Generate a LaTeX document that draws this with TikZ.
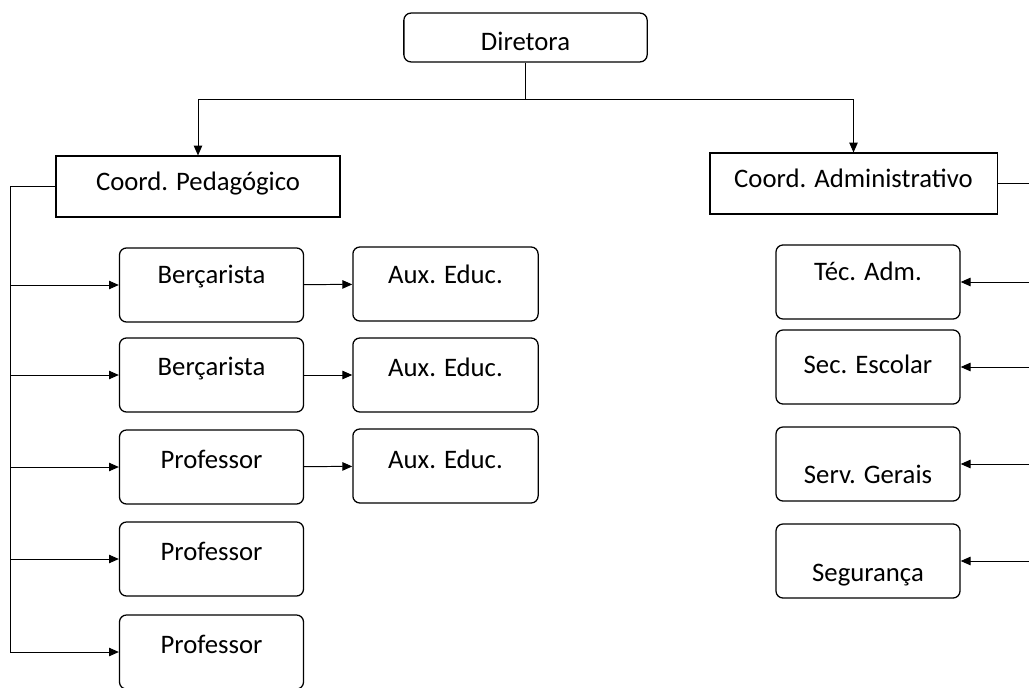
\documentclass[tikz,border=0pt]{standalone}
\usepackage{fontspec}
\setmainfont{Carlito}
\usetikzlibrary{arrows.meta}
\tikzset{
	cargo/.style={draw,line width=0.9pt,rounded corners=5pt,minimum width=4.6cm,minimum height=1.85cm,inner sep=0pt},
	coord/.style={draw,line width=0.9pt,minimum height=1.52cm,inner sep=0pt},
	rotulo/.style={inner sep=0pt,anchor=mid,font=\fontsize{19}{22}\selectfont},
	seta/.style={-{Triangle[length=7pt,width=6pt]},line width=0.7pt}
}
\begin{document}
\begin{tikzpicture}[x=0.025cm,y=-0.025cm]
	\useasboundingbox (0,0) rectangle (1029,688);
	\node[cargo,minimum width=6.08cm,minimum height=1.22cm] (dir) at (525.5,37.5) {};
	\node[coord,minimum width=7.1cm] (cped) at (198,186.5) {};
	\node[coord,minimum width=7.18cm] (cadm) at (853.5,183.5) {};
	\node[rotulo] (tdir) at (525.5,47) {Diretora};
	\node[rotulo] (tcped) at (198,187) {Coord. Pedagógico};
	\node[rotulo] (tcadm) at (853.5,184) {Coord. Administrativo};
	\node[cargo] (ber1) at (211.5,285) {};
	\node[cargo] (ber2) at (211.5,375) {};
	\node[cargo] (prof1) at (211.5,467) {};
	\node[cargo] (prof2) at (211.5,559) {};
	\node[cargo] (prof3) at (211.5,652) {};
	\node[rotulo] (tber1) at (211.5,280) {Berçarista};
	\node[rotulo] (tber2) at (211.5,372) {Berçarista};
	\node[rotulo] (tprof1) at (211.5,465) {Professor};
	\node[rotulo] (tprof2) at (211.5,557) {Professor};
	\node[rotulo] (tprof3) at (211.5,650) {Professor};
	\node[cargo,minimum width=4.63cm] (aux1) at (445.5,284) {};
	\node[cargo,minimum width=4.63cm] (aux2) at (445.5,375) {};
	\node[cargo,minimum width=4.63cm] (aux3) at (445.5,466) {};
	\node[rotulo] (taux1) at (445.5,280) {Aux. Educ.};
	\node[rotulo] (taux2) at (445.5,373) {Aux. Educ.};
	\node[rotulo] (taux3) at (445.5,465) {Aux. Educ.};
	\node[cargo] (tec) at (868,282) {};
	\node[cargo] (sec) at (868,367) {};
	\node[cargo] (serv) at (868,464) {};
	\node[cargo] (seg) at (868,561) {};
	\node[rotulo] (ttec) at (868,277) {Téc. Adm.};
	\node[rotulo] (tsec) at (868,370) {Sec. Escolar};
	\node[rotulo] (tserv) at (868,480) {Serv. Gerais};
	\node[rotulo] (tseg) at (868,578) {Segurança};
	\coordinate (j) at (525.5,99);
	\coordinate (lt) at (10,0);
	\coordinate (rt) at (1031,0);
	\draw[line width=0.7pt] (dir.south) -- (j);
	\draw[seta] (j) -| (cped.north);
	\draw[seta] (j) -| (cadm.north);
	\draw[line width=0.7pt] (cped.west) -- (lt |- cped.west) -- (lt |- prof3.west);
	\foreach \n in {ber1,ber2,prof1,prof2,prof3}
		\draw[seta] (lt |- \n.west) -- (\n.west);
	\draw[seta] (ber1) -- (aux1);
	\draw[seta] (ber2) -- (aux2);
	\draw[seta] (prof1) -- (aux3);
	\draw[line width=0.7pt] (cadm.east) -- (rt |- cadm.east) -- (rt |- seg.east);
	\foreach \n in {tec,sec,serv,seg}
		\draw[seta] (rt |- \n.east) -- (\n.east);
\end{tikzpicture}
\end{document}
